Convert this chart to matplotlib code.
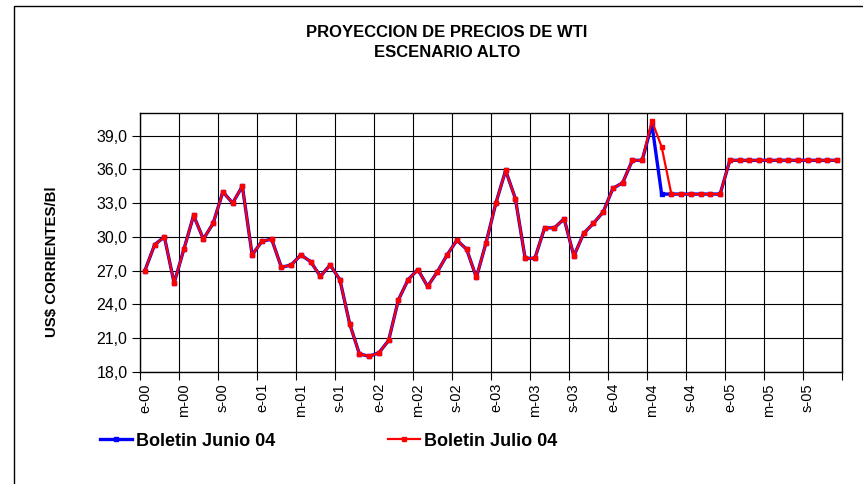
import matplotlib
matplotlib.use('Agg')
import matplotlib.pyplot as plt
from matplotlib.patches import Rectangle
from matplotlib.ticker import FixedLocator, NullFormatter

plt.rcParams['font.family'] = ['Liberation Sans', 'DejaVu Sans']

# monthly WTI price, Jan 2000 .. Dec 2005
julio = [27.0, 29.3, 30.0, 25.9, 28.9, 31.9, 29.8, 31.2, 34.0, 33.0, 34.5, 28.4,
         29.6, 29.8, 27.3, 27.5, 28.4, 27.8, 26.5, 27.5, 26.2, 22.3, 19.6, 19.4,
         19.7, 20.8, 24.4, 26.2, 27.1, 25.6, 26.9, 28.4, 29.7, 28.9, 26.4, 29.5,
         33.0, 35.9, 33.4, 28.1, 28.1, 30.8, 30.8, 31.6, 28.3, 30.3, 31.2, 32.2,
         34.3, 34.8, 36.8, 36.8, 40.3, 38.0, 33.8, 33.8, 33.8, 33.8, 33.8, 33.8,
         36.8, 36.8, 36.8, 36.8, 36.8, 36.8, 36.8, 36.8, 36.8, 36.8, 36.8, 36.8]
junio = julio[:52] + [40.0, 33.8] + julio[54:]

tick_labels = ['e-00', 'm-00', 's-00', 'e-01', 'm-01', 's-01', 'e-02', 'm-02', 's-02',
               'e-03', 'm-03', 's-03', 'e-04', 'm-04', 's-04', 'e-05', 'm-05', 's-05']
y_ticks = [18, 21, 24, 27, 30, 33, 36, 39]

W, H = 863, 484
fig = plt.figure(figsize=(W / 100, H / 100), dpi=100)
ax = fig.add_axes([140 / W, 1 - 372 / H, (842 - 140) / W, (372 - 113) / H])

x = list(range(len(julio)))
l1, = ax.plot(x, junio, color='#0000ff', lw=2.4, marker='s', ms=2.5, zorder=3)
l2, = ax.plot(x, julio, color='#ff0000', lw=1.6, marker='s', ms=3, zorder=4)

ax.set_xlim(-0.5, len(julio) - 0.5)
ax.set_ylim(18, 41)
ax.set_yticks(y_ticks)
ax.set_yticklabels([f'{v:.1f}'.replace('.', ',') for v in y_ticks], fontsize=11.5)

# ticks + grid on category boundaries, labels on category centres
ax.xaxis.set_major_locator(FixedLocator([b - 0.5 for b in range(0, len(julio) + 1, 4)]))
ax.xaxis.set_major_formatter(NullFormatter())
ax.xaxis.set_minor_locator(FixedLocator(list(range(0, len(julio), 4))))
ax.set_xticklabels(tick_labels, minor=True, rotation=90, fontsize=10.5)
ax.tick_params(axis='x', which='minor', length=0, pad=8)
ax.tick_params(axis='x', which='major', length=6, direction='out', color='black')
ax.tick_params(axis='y', length=6, direction='out', pad=3)

ax.grid(True, which='major', color='black', lw=0.8)
ax.set_axisbelow(True)
for s in ax.spines.values():
    s.set_color('black')
    s.set_linewidth(1.0)

ax.set_ylabel('US$ CORRIENTES/Bl', fontsize=10.8, fontweight='bold')
ax.yaxis.set_label_coords(-0.115, 0.424)

fig.text(447 / W, 1 - 33 / H, 'PROYECCION DE PRECIOS DE WTI', ha='center', va='center',
         fontsize=12, fontweight='bold')
fig.text(447 / W, 1 - 52.5 / H, 'ESCENARIO ALTO', ha='center', va='center',
         fontsize=12, fontweight='bold')

leg_kw = dict(frameon=False, loc='center left', prop={'weight': 'bold', 'size': 13},
              handlelength=1.75, handletextpad=0.25, borderaxespad=0, borderpad=0)
fig.legend([l1], ['Boletin Junio 04'], bbox_to_anchor=(100 / W, 1 - 441 / H), **leg_kw)
fig.legend([l2], ['Boletin Julio 04'], bbox_to_anchor=(388 / W, 1 - 441 / H), **leg_kw)

fig.add_artist(Rectangle((14 / W, -0.1), 1.2, 1 - 6 / H + 0.1, transform=fig.transFigure,
                         fill=False, ec='black', lw=1.0))

fig.savefig('out.png', dpi=100)
